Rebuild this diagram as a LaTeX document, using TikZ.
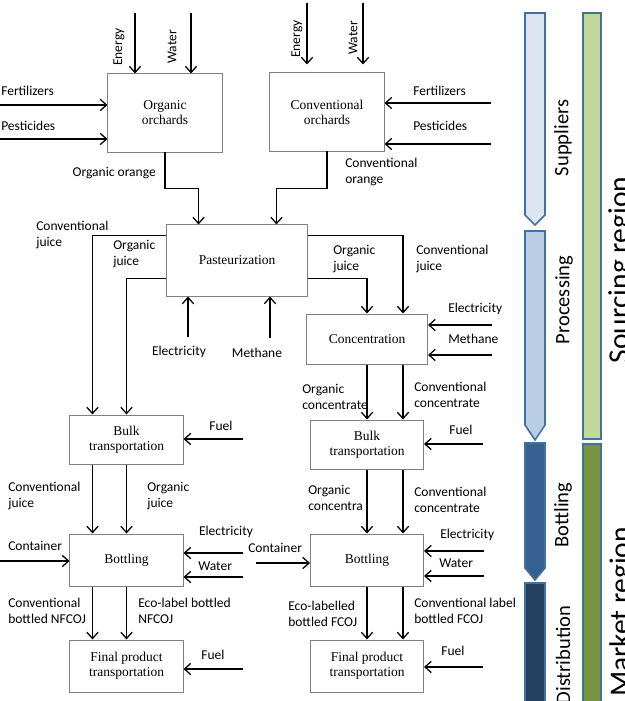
\documentclass[tikz,border=0pt]{standalone}
\usepackage{fontspec}
\setmainfont{Carlito}
\newfontfamily\boxfont{Liberation Serif}
\usetikzlibrary{arrows.meta}
\definecolor{phaseedge}{HTML}{41719C}
\definecolor{supfill}{HTML}{DCE6F2}
\definecolor{profill}{HTML}{B9CDE5}
\definecolor{botfill}{HTML}{376092}
\definecolor{disfill}{HTML}{254061}
\definecolor{srcfill}{HTML}{C3D69B}
\definecolor{mktfill}{HTML}{77933C}
\tikzset{
  procbox/.style={draw=black!50, line width=0.7pt, font=\boxfont\fontsize{9.6}{10.8}\selectfont, align=center, inner sep=0pt, minimum width=2.825cm},
  flow/.style={draw=black, line width=0.9pt, -{Straight Barb[length=4.5pt,width=8pt]}},
  lbl/.style={font=\fontsize{9.6}{11.3}\selectfont, align=left, inner sep=0pt},
  vlbl/.style={lbl, rotate=90},
  stagebar/.style={draw=phaseedge, line width=1.1pt, line join=miter},
  phasename/.style={font=\fontsize{14.6}{16}\selectfont, rotate=90, inner sep=0pt},
  regionname/.style={font=\fontsize{21}{24}\selectfont, rotate=90, inner sep=0pt, anchor=north},
}

\begin{document}
\begin{tikzpicture}[x=0.025cm, y=-0.025cm]
\useasboundingbox (0,0) rectangle (624,701);
\clip (0,0) rectangle (624,701);

% phase bars on the right
\draw[stagebar, fill=supfill] (525,13) -- (545,13) -- (545,215) -- (535,225) -- (525,215) -- cycle;
\draw[stagebar, fill=profill] (525,231) -- (545,231) -- (545,425) -- (535,440) -- (525,425) -- cycle;
\draw[stagebar, fill=botfill] (525,443) -- (545,443) -- (545,568) -- (535,580) -- (525,568) -- cycle;
\draw[stagebar, fill=disfill] (525,583) -- (545,583) -- (545,710) -- (525,710) -- cycle;
\draw[stagebar, fill=srcfill] (583,13) rectangle (601,439);
\draw[stagebar, fill=mktfill] (583,444) rectangle (601,710);
\node[phasename] (nsup) at (563,138) {Suppliers};
\node[phasename] (npro) at (564,300) {Processing};
\node[phasename] (nbot) at (563,515) {Bottling};
\node[phasename] (ndis) at (563,655) {Distribution};
\node[regionname] (nsrc) at (608,270) {Sourcing region};
\node[regionname] (nmkt) at (609,612) {Market region};

% process boxes
\node[procbox, minimum width=2.85cm, minimum height=1.95cm] (orgorch) at (165,113) {Organic\\orchards};
\node[procbox, minimum width=2.85cm, minimum height=1.95cm] (convorch) at (327,112) {Conventional\\orchards};
\node[procbox, minimum width=3.5cm, minimum height=1.775cm] (past) at (237,260.5) {Pasteurization};
\node[procbox, minimum width=3.025cm, minimum height=1.25cm] (conc) at (367,339) {Concentration};
\node[procbox, minimum height=1.225cm] (bulkA) at (126.5,439.5) {Bulk\\transportation};
\node[procbox, minimum height=1.225cm] (bulkB) at (367,444.5) {Bulk\\transportation};
\node[procbox, minimum height=1.3cm] (bottA) at (126.5,560) {Bottling};
\node[procbox, minimum height=1.3cm] (bottB) at (367,560) {Bottling};
\node[procbox, minimum height=1.3cm] (finA) at (126.5,666) {Final product\\transportation};
\node[procbox, minimum height=1.3cm] (finB) at (367,666) {Final product\\transportation};

% inputs
\coordinate (enA) at (135,13);
\coordinate (waA) at (191,13);
\coordinate (feA) at (0,105);
\coordinate (peA) at (0,139);
\draw[flow] (enA) -- (enA |- orgorch.north);
\draw[flow] (waA) -- (waA |- orgorch.north);
\draw[flow] (feA) -- (feA -| orgorch.west);
\draw[flow] (peA) -- (peA -| orgorch.west);
\coordinate (enB) at (307,3);
\coordinate (waB) at (363,3);
\coordinate (feB) at (491,103);
\coordinate (peB) at (491,144);
\draw[flow, shorten >=0.2cm] (enB) -- (enB |- convorch.north);
\draw[flow, shorten >=0.2cm] (waB) -- (waB |- convorch.north);
\draw[flow] (feB) -- (feB -| convorch.east);
\draw[flow] (peB) -- (peB -| convorch.east);
\coordinate (elP) at (188,337);
\coordinate (meP) at (270,338);
\draw[flow] (elP) -- (elP |- past.south);
\draw[flow] (meP) -- (meP |- past.south);
\coordinate (elC) at (492,325);
\coordinate (meC) at (492,355);
\draw[flow] (elC) -- (elC -| conc.east);
\draw[flow] (meC) -- (meC -| conc.east);
\coordinate (fuA) at (243,439);
\coordinate (fuB) at (483,444);
\draw[flow] (fuA) -- (fuA -| bulkA.east);
\draw[flow] (fuB) -- (fuB -| bulkB.east);
\coordinate (coA) at (0,561);
\coordinate (elA) at (243,553);
\coordinate (wtA) at (243,577);
\draw[flow] (coA) -- (coA -| bottA.west);
\draw[flow] (elA) -- (elA -| bottA.east);
\draw[flow] (wtA) -- (wtA -| bottA.east);
\coordinate (coB) at (256,563);
\coordinate (elB) at (484,551);
\coordinate (wtB) at (484,576);
\draw[flow] (coB) -- (coB -| bottB.west);
\draw[flow] (elB) -- (elB -| bottB.east);
\draw[flow] (wtB) -- (wtB -| bottB.east);
\coordinate (fuC) at (243,669);
\coordinate (fuD) at (483,667);
\draw[flow] (fuC) -- (fuC -| finA.east);
\draw[flow] (fuD) -- (fuD -| finB.east);

% product flows
\draw[flow] (orgorch.south) -- ++(0,36) -| ([xshift=0.8cm]past.north west);
\draw[flow] (convorch.south) -- ++(0,37) -| ([xshift=-0.775cm]past.north east);
\draw[flow] ([yshift=-0.275cm]past.north west) -| ([xshift=-0.85cm]bulkA.north);
\draw[flow] ([yshift=0.45cm]past.south west) -| (bulkA.north);
\draw[flow] ([yshift=-0.275cm]past.north east) -| ([xshift=0.9cm]conc.north);
\draw[flow] ([yshift=0.45cm]past.south east) -| (conc.north);
\draw[flow] (conc.south) -- (bulkB.north);
\draw[flow] ([xshift=0.9cm]conc.south) -- ([xshift=0.9cm]bulkB.north);
\draw[flow] (bulkB.south) -- (bottB.north);
\draw[flow] ([xshift=0.9cm]bulkB.south) -- ([xshift=0.9cm]bottB.north);
\draw[flow] (bottB.south) -- (finB.north);
\draw[flow] ([xshift=0.9cm]bottB.south) -- ([xshift=0.9cm]finB.north);
\draw[flow] ([xshift=-0.85cm]bulkA.south) -- ([xshift=-0.85cm]bottA.north);
\draw[flow] (bulkA.south) -- (bottA.north);
\draw[flow] ([xshift=-0.85cm]bottA.south) -- ([xshift=-0.85cm]finA.north);
\draw[flow] (bottA.south) -- (finA.north);

% labels
\node[lbl, anchor=west] (tfeA) at (1,91) {Fertilizers};
\node[lbl, anchor=west] (tpeA) at (1,126) {Pesticides};
\node[vlbl] (tenA) at (119,47) {Energy};
\node[vlbl] (twaA) at (172,47) {Water};
\node[lbl, anchor=east] (torg) at (156,173) {Organic orange};
\node[vlbl] (tenB) at (297,39) {Energy};
\node[vlbl] (twaB) at (353,38) {Water};
\node[lbl, anchor=west] (tfeB) at (413,91) {Fertilizers};
\node[lbl, anchor=west] (tpeB) at (413,126) {Pesticides};
\node[lbl, anchor=west] (tconv) at (345,172) {Conventional\\orange};
\node[lbl, anchor=west] (tcjA) at (36,235) {Conventional\\juice};
\node[lbl, anchor=west] (tojA) at (113,254) {Organic\\juice};
\node[lbl, anchor=west] (tojB) at (333,259) {Organic\\juice};
\node[lbl, anchor=west] (tcjB) at (416,259) {Conventional\\juice};
\node[lbl] (telP) at (179,352) {Electricity};
\node[lbl] (tmeP) at (257,353) {Methane};
\node[lbl, anchor=west] (telC) at (448,309) {Electricity};
\node[lbl, anchor=west] (tmeC) at (448,339) {Methane};
\node[lbl, anchor=west] (tocA) at (302,397) {Organic\\concentrate};
\node[lbl, anchor=west] (tccA) at (414,395) {Conventional\\concentrate};
\node[lbl] (tfuA) at (221,426) {Fuel};
\node[lbl] (tfuB) at (461,430) {Fuel};
\node[lbl, anchor=west] (tcjC) at (8,496) {Conventional\\juice};
\node[lbl, anchor=west] (tojC) at (147,496) {Organic\\juice};
\node[lbl, anchor=west] (tocB) at (308,498) {Organic\\concentra};
\node[lbl, anchor=west] (tccB) at (414,500) {Conventional\\concentrate};
\node[lbl, anchor=west] (tcoA) at (8,546) {Container};
\node[lbl] (telA) at (226,532) {Electricity};
\node[lbl, anchor=west] (twtA) at (198,566) {Water};
\node[lbl, anchor=west] (tcoB) at (248,548) {Container};
\node[lbl, anchor=west] (telB) at (440,535) {Electricity};
\node[lbl, anchor=west] (twtB) at (439,563) {Water};
\node[lbl, anchor=west] (tnfA) at (8,611) {Conventional\\bottled NFCOJ};
\node[lbl, anchor=west] (tnfB) at (138,611) {Eco-label bottled\\NFCOJ};
\node[lbl, anchor=west] (tfcA) at (288,614) {Eco-labelled\\bottled FCOJ};
\node[lbl, anchor=west] (tfcB) at (414,611) {Conventional label\\bottled FCOJ};
\node[lbl] (tfuC) at (213,655) {Fuel};
\node[lbl] (tfuD) at (453,651) {Fuel};
\end{tikzpicture}
\end{document}
